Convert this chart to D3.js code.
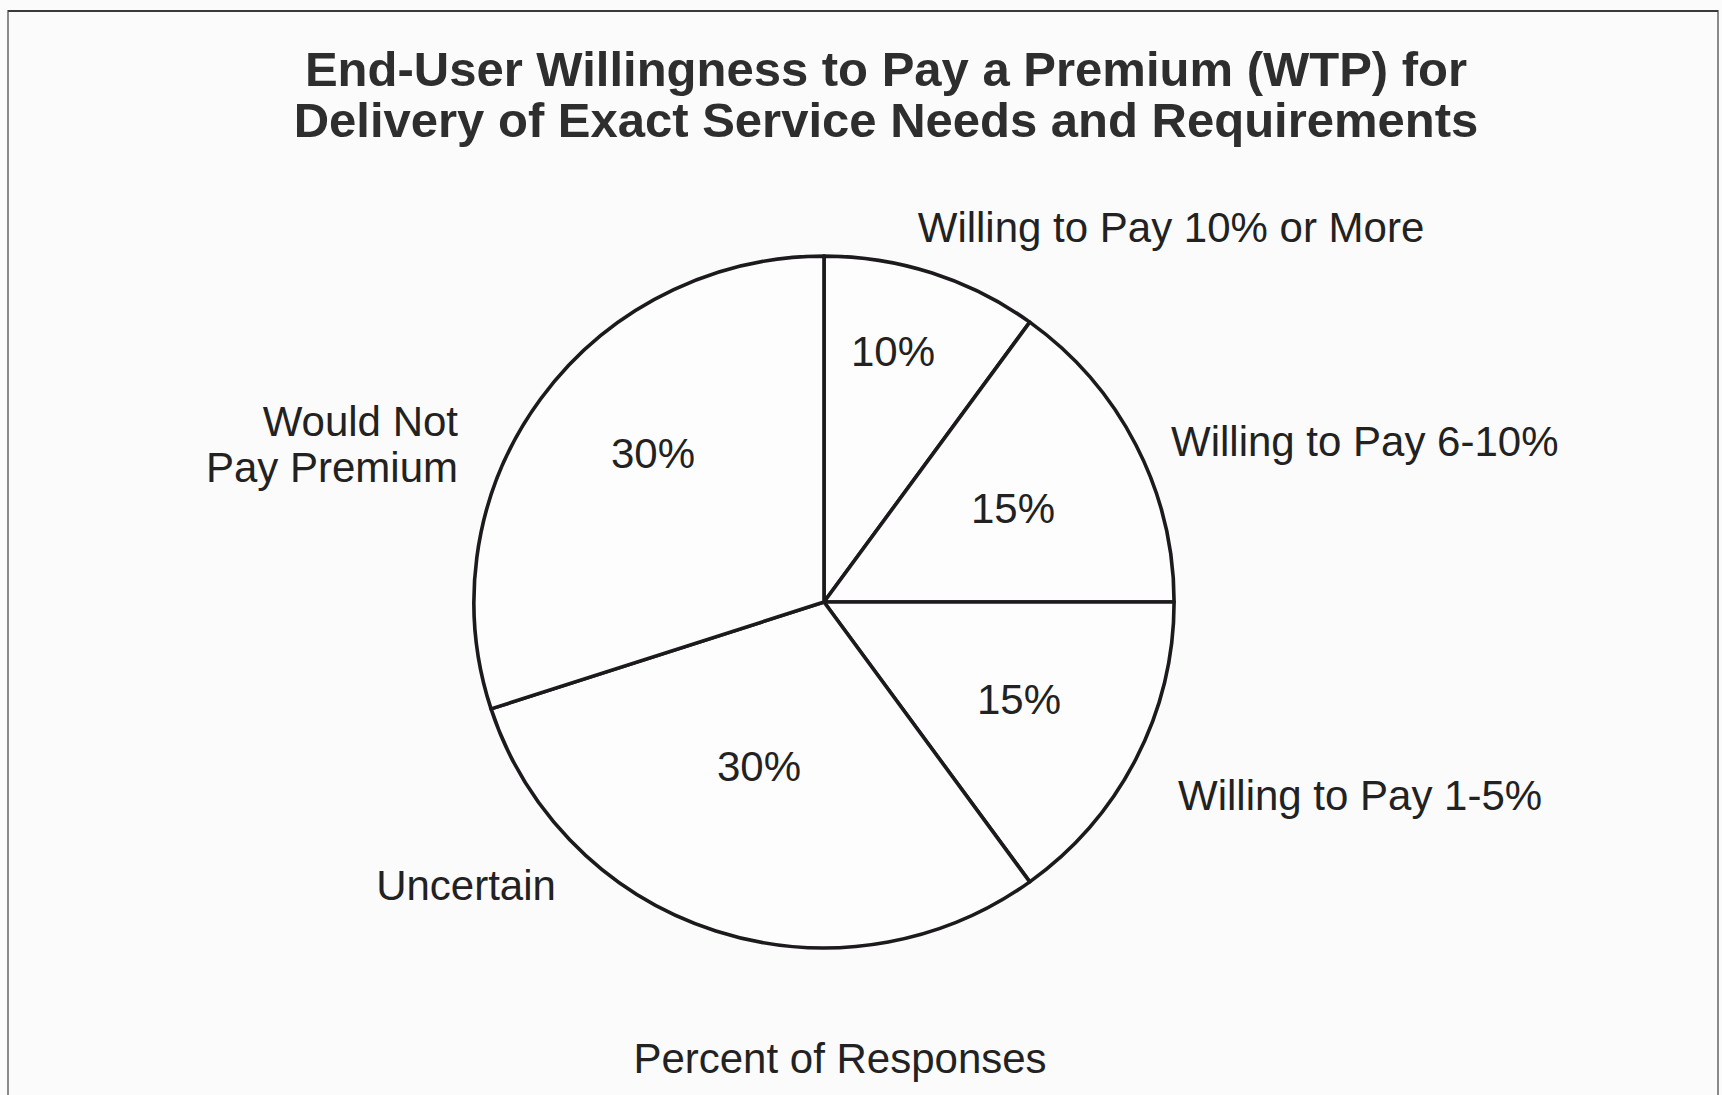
<!DOCTYPE html>
<html>
<head>
<meta charset="utf-8">
<script src="https://cdn.jsdelivr.net/npm/d3@7/dist/d3.min.js"></script>
<style>
  html, body { margin: 0; padding: 0; background: #fbfbfb; }
  svg { display: block; }
  text { font-family: "Liberation Sans", Arial, Helvetica, sans-serif; }
</style>
</head>
<body>
<svg id="chart" width="1722" height="1095"></svg>
<script>
// Survey responses, clockwise from 12 o'clock
const categories = [
  "Willing to Pay 10% or More",
  "Willing to Pay 6-10%",
  "Willing to Pay 1-5%",
  "Uncertain",
  "Would Not Pay Premium"
];
const shares = [10, 15, 15, 30, 30];

const titleLines = [
  "End-User Willingness to Pay a Premium (WTP) for",
  "Delivery of Exact Service Needs and Requirements"
];
const caption = "Percent of Responses";

// Category label text, broken into lines where needed
const categoryLines = [
  ["Willing to Pay 10% or More"],
  ["Willing to Pay 6-10%"],
  ["Willing to Pay 1-5%"],
  ["Uncertain"],
  ["Would Not", "Pay Premium"]
];

// Hand-tuned placement of labels relative to the pie centre
const valueLabelOffset = [
  [70, -252], [190, -95], [196, 96], [-64, 163], [-170, -150]
];
const categoryLabelLayout = [
  { dx: 348, dy: -361, anchor: "middle" },
  { dx: 348, dy: -147, anchor: "start" },
  { dx: 355, dy: 207, anchor: "start" },
  { dx: -357, dy: 297, anchor: "middle" },
  { dx: -365, dy: -167, anchor: "end" }
];

const svg = d3.select("#chart");
const W = 1722, H = 1095;
const cx = 824, cy = 602, radius = 348;

svg.append("rect").attr("width", W).attr("height", H).attr("fill", "#fbfbfb");

// Frame around the figure
svg.append("path")
  .attr("d", d3.line()([[8, H + 5], [8, 11], [1718, 11], [1718, H + 5]]))
  .attr("fill", "none")
  .attr("stroke", "#8a8a8a")
  .attr("stroke-width", 2);
svg.append("line")
  .attr("x1", 8).attr("x2", 1718).attr("y1", 11).attr("y2", 11)
  .attr("stroke", "#3a3a3a").attr("stroke-width", 2);

// Title
svg.append("g").selectAll("text")
  .data(titleLines)
  .join("text")
  .attr("x", 886)
  .attr("y", (d, i) => 86 + i * 51)
  .attr("text-anchor", "middle")
  .attr("font-size", 49)
  .attr("font-weight", "bold")
  .attr("fill", "#2e2e2e")
  .text(d => d);

// Pie (slightly wider than tall, as printed)
const pie = d3.pie().sort(null).value(d => d)(shares);
const arc = d3.arc().innerRadius(0).outerRadius(radius);

const g = svg.append("g").attr("transform", `translate(${cx},${cy})`);

g.append("g")
  .attr("transform", "scale(1.006,0.994)")
  .selectAll("path.slice")
  .data(pie)
  .join("path")
  .attr("class", "slice")
  .attr("d", arc)
  .attr("fill", "#fdfdfd")
  .attr("stroke", "#1c1a1c")
  .attr("stroke-width", 3.6)
  .attr("stroke-linejoin", "round");

// Percentage inside each slice
g.selectAll("text.value")
  .data(pie)
  .join("text")
  .attr("class", "value")
  .attr("x", (d, i) => valueLabelOffset[i][0] - 1)
  .attr("y", (d, i) => valueLabelOffset[i][1] + 1)
  .attr("dy", "0.35em")
  .attr("text-anchor", "middle")
  .attr("font-size", 42)
  .attr("fill", "#222")
  .text(d => `${d.data}%`);

// Category names around the pie
const cat = g.selectAll("text.category")
  .data(categories)
  .join("text")
  .attr("class", "category")
  .attr("text-anchor", (d, i) => categoryLabelLayout[i].anchor)
  .attr("font-size", 42)
  .attr("fill", "#222");

cat.selectAll("tspan")
  .data((d, i) => categoryLines[i].map(t => ({ t, i })))
  .join("tspan")
  .attr("x", d => categoryLabelLayout[d.i].dx - 1)
  .attr("y", (d, j) => categoryLabelLayout[d.i].dy + 1 + j * 46)
  .text(d => d.t);

// Caption beneath the pie
svg.append("text")
  .attr("x", 840)
  .attr("y", 1073)
  .attr("text-anchor", "middle")
  .attr("font-size", 42)
  .attr("fill", "#222")
  .text(caption);
</script>
</body>
</html>
